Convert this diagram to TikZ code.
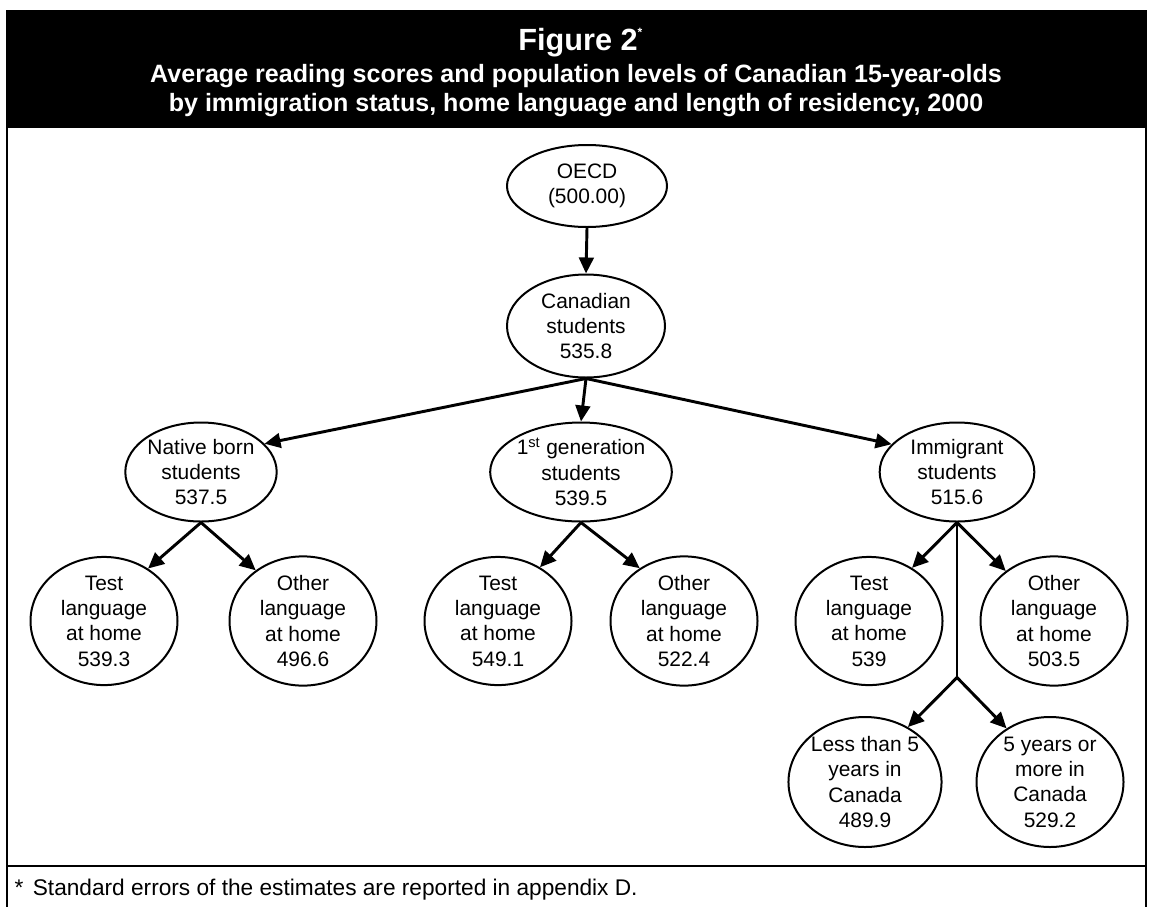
\documentclass[tikz,border=0pt]{standalone}
\usepackage{fontspec}
\setmainfont{Liberation Sans}
\usetikzlibrary{shapes.geometric,arrows.meta}
\begin{document}
\begin{tikzpicture}[x=0.75pt,y=-0.75pt,
  ell/.style={draw, ellipse, line width=1.5pt, inner sep=0pt, align=center,
    font=\fontsize{15.7}{19}\selectfont},
  lvA/.style={ell, minimum width=120pt, minimum height=61.5pt},
  lvB/.style={ell, minimum width=118.5pt, minimum height=77.25pt},
  lvC/.style={ell, minimum width=111pt, minimum height=74.25pt},
  lvD/.style={ell, minimum width=110.25pt, minimum height=91.5pt},
  lvE/.style={ell, minimum width=110.25pt, minimum height=97.5pt},
  conn/.style={line width=2.2pt, -{Triangle[length=12pt,width=11pt]}},
  plain/.style={line width=2.2pt},
  frame/.style={line width=1.6pt}]
\useasboundingbox (0,0) rectangle (1152,907);
% header
\fill[black] (6,10) rectangle (1147,128);
\node[white, anchor=base, font=\bfseries\fontsize{23}{27}\selectfont] (title) at (578,50)
  {Figure 2\rlap{\raisebox{10pt}{\fontsize{9}{9}\selectfont *}}};
\node[white, anchor=base, font=\bfseries\fontsize{18.8}{22}\selectfont] (sub1) at (576,82)
  {Average reading scores and population levels of Canadian 15-year-olds};
\node[white, anchor=base, font=\bfseries\fontsize{18.8}{22}\selectfont] (sub2) at (576,111)
  {by immigration status, home language and length of residency, 2000};
% frame
\draw[frame] (7,127) -- (7,907);
\draw[frame] (1146,127) -- (1146,907);
\draw[line width=2pt] (6,866) -- (1147,866);
\node[anchor=base west, font=\fontsize{17}{20}\selectfont] (foot) at (10,895)
  {*\hspace{7pt}Standard errors of the estimates are reported in appendix D.};
% nodes
\node[lvA] (oecd) at (587,186) {OECD\\(500.00)};
\node[lvB] (can) at (586,326) {Canadian\\students\\535.8};
\node[lvC] (nat) at (201,472) {Native born\\students\\537.5};
\node[lvC] (gen) at (581,472) {1\textsuperscript{st} generation\\students\\539.5};
\node[lvC, minimum width=116pt] (imm) at (957,472) {Immigrant\\students\\515.6};
\node[lvD] (t1) at (104,621) {Test\\language\\at home\\539.3};
\node[lvD] (o1) at (303,621) {Other\\language\\at home\\496.6};
\node[lvD] (t2) at (498,621) {Test\\language\\at home\\549.1};
\node[lvD] (o2) at (684,621) {Other\\language\\at home\\522.4};
\node[lvD] (t3) at (869,621) {Test\\language\\at home\\539};
\node[lvD] (o3) at (1054,621) {Other\\language\\at home\\503.5};
\node[lvE] (less) at (865,782) {Less than 5\\years in\\Canada\\489.9};
\node[lvE] (more) at (1050,782) {5 years or\\more in\\Canada\\529.2};
% connectors
\draw[conn] (oecd.south) -- (can.north);
\draw[conn] (can.south) -- (nat.24);
\draw[conn] (can.south) -- (gen.north);
\draw[conn] (can.south) -- (imm.157);
\draw[conn] (nat.south) -- (t1.50);
\draw[conn] (nat.south) -- (o1.133);
\draw[conn] (gen.south) -- (t2.52);
\draw[conn] (gen.south) -- (o2.130);
\draw[conn] (imm.south) -- (t3.51);
\draw[conn] (imm.south) -- (o3.134);
\path (imm.south) ++(0,155) coordinate (fork);
\draw[plain] (imm.south) -- (fork);
\draw[conn] (fork) -- (less.52);
\draw[conn] (fork) -- (more.129);
\end{tikzpicture}
\end{document}
